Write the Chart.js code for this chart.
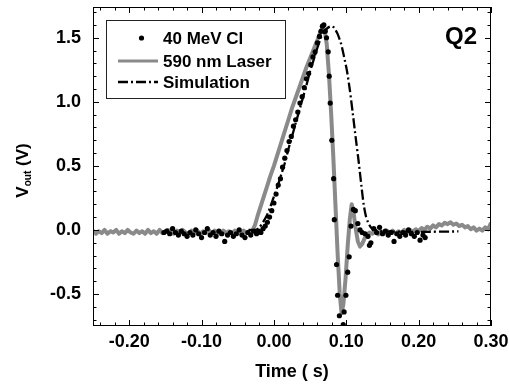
<!DOCTYPE html>
<html>
<head>
<meta charset="utf-8">
<script src="https://cdn.jsdelivr.net/npm/chart.js@4.4.1/dist/chart.umd.min.js"></script>
<style>
  html, body { margin: 0; padding: 0; background: #fff; }
  #wrap { width: 509px; height: 384px; }
</style>
</head>
<body>
<div id="wrap"><canvas id="pulseChart" width="509" height="384"></canvas></div>
<script>
// 40 MeV Cl ion response (dots)
const ionT = [
  -0.152, -0.148, -0.144, -0.140, -0.136, -0.132, -0.128, -0.124, -0.120, -0.116,
  -0.112, -0.108, -0.104, -0.100, -0.096, -0.092, -0.088, -0.084, -0.080, -0.076,
  -0.072, -0.068, -0.064, -0.060, -0.056, -0.052, -0.048, -0.044, -0.040, -0.036,
  -0.032, -0.028,
  -0.024, -0.021, -0.018, -0.015, -0.012, -0.009, -0.006, -0.003, 0.000, 0.003,
  0.006, 0.009, 0.012, 0.015, 0.018, 0.021, 0.024, 0.027, 0.030, 0.033,
  0.036, 0.039, 0.042, 0.045, 0.048, 0.051, 0.054, 0.057, 0.060, 0.063,
  0.065, 0.067, 0.069,
  0.071, 0.0727, 0.075, 0.0764, 0.0778, 0.080, 0.0825, 0.0835, 0.0866, 0.088,
  0.0905, 0.0958, 0.097, 0.0995, 0.102, 0.104, 0.1065, 0.1098, 0.1125, 0.116,
  0.119, 0.122, 0.126, 0.130,
  0.132, 0.134,
  0.138, 0.142, 0.146, 0.150, 0.154, 0.158, 0.162, 0.166, 0.170, 0.174,
  0.178, 0.182, 0.186, 0.190, 0.194, 0.198, 0.202, 0.206, 0.209
];
const ionV = [
  -0.02, -0.01, -0.03, 0.01, -0.02, -0.04, -0.01, -0.03, -0.05, -0.02,
  -0.04, 0.00, -0.03, -0.06, -0.02, 0.01, -0.04, -0.02, -0.05, -0.01,
  -0.03, -0.09, -0.04, -0.02, -0.05, -0.03, 0.00, -0.04, -0.06, -0.02,
  -0.04, -0.01,
  -0.03, -0.01, -0.02, 0.01, 0.03, 0.06, 0.10, 0.15, 0.21, 0.28,
  0.35, 0.40, 0.49, 0.56, 0.62, 0.69, 0.73, 0.81, 0.86, 0.92,
  0.99, 1.04, 1.11, 1.18, 1.22, 1.29, 1.35, 1.39, 1.46, 1.51,
  1.55, 1.59, 1.60,
  1.55, 1.50, 1.39, 1.20, 0.99, 0.70, 0.40, 0.08, -0.27, -0.51,
  -0.67, -0.74, -0.64, -0.51, -0.33, -0.21, 0.03, 0.16, 0.15, 0.05,
  0.00, -0.02, -0.03, -0.05,
  -0.12, -0.10,
  0.01, -0.02, 0.02, -0.03, -0.01, -0.04, -0.02, -0.09, -0.03, -0.05,
  -0.02, -0.04, 0.00, -0.03, -0.05, -0.02, -0.08, -0.04, -0.06
];

// 590 nm laser response (grey trace)
const laserT = [
  -0.250, -0.246, -0.242, -0.238, -0.234, -0.230, -0.226, -0.222, -0.218, -0.214,
  -0.210, -0.206, -0.202, -0.198, -0.194, -0.190, -0.186, -0.182, -0.178, -0.174,
  -0.170, -0.166, -0.162, -0.158, -0.154, -0.150, -0.146, -0.142, -0.138, -0.134,
  -0.130, -0.126, -0.122, -0.118, -0.114, -0.110, -0.106, -0.102, -0.098, -0.094,
  -0.090, -0.086, -0.082, -0.078, -0.074, -0.070, -0.066, -0.062, -0.058, -0.054,
  -0.050, -0.046, -0.042, -0.038, -0.034,
  -0.030, -0.026, -0.022, -0.018, -0.014, -0.010, -0.005, 0.000, 0.005, 0.010,
  0.015, 0.020, 0.025, 0.030, 0.035, 0.040, 0.045, 0.050, 0.055, 0.060,
  0.064, 0.067,
  0.070, 0.073, 0.076, 0.079, 0.082, 0.085, 0.088, 0.091, 0.0935, 0.096,
  0.099, 0.102, 0.105, 0.1075, 0.110, 0.113, 0.116, 0.119, 0.122, 0.125,
  0.128, 0.132,
  0.136, 0.140, 0.144, 0.148, 0.152, 0.156, 0.160, 0.164, 0.168, 0.172,
  0.176, 0.180, 0.184, 0.188, 0.192, 0.196, 0.200, 0.204, 0.208, 0.212,
  0.216, 0.220, 0.224, 0.228, 0.232, 0.236, 0.240, 0.244, 0.248, 0.252,
  0.256, 0.260, 0.264, 0.268, 0.272, 0.276, 0.280, 0.284, 0.288, 0.292,
  0.296, 0.300
];
const laserV = [
  -0.005, -0.030, -0.010, -0.025, 0.000, -0.030, -0.010, -0.020, 0.000, -0.030,
  -0.010, -0.025, 0.000, -0.020, -0.030, -0.005, -0.025, -0.010, -0.030, 0.000,
  -0.025, -0.010, -0.030, 0.000, -0.025, -0.010, 0.000, -0.025, -0.030, -0.005,
  -0.025, 0.000, -0.020, -0.030, -0.005, -0.025, -0.005, -0.030, -0.010, -0.025,
  0.000, -0.030, -0.005, -0.025, -0.030, -0.005, -0.025, -0.010, -0.030, -0.005,
  -0.025, -0.030, -0.005, -0.025, -0.010,
  -0.01, 0.04, 0.12, 0.19, 0.26, 0.33, 0.42, 0.50, 0.59, 0.68,
  0.77, 0.86, 0.95, 1.03, 1.11, 1.19, 1.27, 1.34, 1.41, 1.48,
  1.54, 1.58,
  1.56, 1.45, 1.22, 0.92, 0.58, 0.20, -0.18, -0.50, -0.65, -0.58,
  -0.38, -0.12, 0.09, 0.20, 0.14, 0.01, -0.09, -0.13, -0.11, -0.07,
  -0.04, -0.02,
  -0.030, -0.010, -0.035, -0.010, -0.030, -0.005, -0.025, -0.005, -0.030, -0.010,
  -0.025, 0.000, -0.020, 0.000, -0.015, 0.005, -0.010, 0.015, 0.000, 0.025,
  0.010, 0.035, 0.020, 0.045, 0.035, 0.055, 0.045, 0.060, 0.040, 0.050,
  0.030, 0.040, 0.020, 0.030, 0.005, 0.020, -0.005, 0.010, -0.005, 0.020,
  0.005, 0.055
];

// simulated pulse (dash-dot)
const simT = [
  -0.035, -0.025, -0.020, -0.015, -0.010, -0.005, 0.000, 0.005, 0.010, 0.015,
  0.020, 0.025, 0.030, 0.035, 0.040, 0.045, 0.050, 0.055, 0.060, 0.065,
  0.070, 0.075, 0.079, 0.083, 0.088, 0.093, 0.097, 0.101, 0.105, 0.109,
  0.113, 0.117, 0.121, 0.124, 0.127, 0.130, 0.134, 0.140, 0.150, 0.200,
  0.255
];
const simV = [
  0.00, 0.00, 0.02, 0.06, 0.11, 0.18, 0.26, 0.34, 0.43, 0.52,
  0.63, 0.73, 0.83, 0.93, 1.03, 1.13, 1.24, 1.33, 1.42, 1.50,
  1.55, 1.58, 1.59, 1.58, 1.53, 1.45, 1.35, 1.24, 1.09, 0.91,
  0.72, 0.54, 0.34, 0.20, 0.11, 0.06, 0.02, 0.00, -0.01, -0.015,
  -0.012
];

const xTicks = [-0.2, -0.1, 0, 0.1, 0.2, 0.3];
const yTicks = [-0.5, 0, 0.5, 1.0, 1.5];
const xRange = [-0.25, 0.30];
const yRange = [-0.75, 1.74];
const seriesLabels = ["40 MeV Cl", "590 nm Laser", "Simulation"];
const panelLabel = "Q2";
const xTitle = "Time ( s)";

const FONT = "'Liberation Sans', Arial, Helvetica, sans-serif";
const toXY = (xs, ys) => xs.map((x, i) => ({ x, y: ys[i] }));

// frame + inward major/minor ticks on all four sides
const frameTicks = {
  id: "frameTicks",
  afterDraw(chart) {
    const { ctx, chartArea: a, scales: { x, y } } = chart;
    ctx.save();
    ctx.strokeStyle = "#000";
    ctx.lineWidth = 1;
    ctx.strokeRect(a.left + 0.5, a.top + 0.5, a.right - a.left - 1, a.bottom - a.top - 1);
    ctx.beginPath();
    for (let i = -12; i <= 15; i++) {
      const px = Math.round(x.getPixelForValue(i * 0.02)) + 0.5;
      const len = i % 5 === 0 ? 6 : 3.5;
      ctx.moveTo(px, a.bottom);
      ctx.lineTo(px, a.bottom - len);
      ctx.moveTo(px, a.top);
      ctx.lineTo(px, a.top + len);
    }
    for (let i = -7; i <= 17; i++) {
      const py = Math.round(y.getPixelForValue(i * 0.1)) + 0.5;
      const len = i % 5 === 0 ? 6 : 3.5;
      ctx.moveTo(a.left, py);
      ctx.lineTo(a.left + len, py);
      ctx.moveTo(a.right, py);
      ctx.lineTo(a.right - len, py);
    }
    ctx.stroke();

    // y title with subscript
    ctx.fillStyle = "#000";
    ctx.translate(22, (a.top + a.bottom) / 2 + 4);
    ctx.rotate(-Math.PI / 2);
    const big = "bold 17px " + FONT;
    const small = "bold 10px " + FONT;
    ctx.font = big;
    const wV = ctx.measureText("V").width;
    const wRest = ctx.measureText(" (V)").width;
    ctx.font = small;
    const wSub = ctx.measureText("out").width;
    let cx = -(wV + wSub + wRest) / 2;
    ctx.textBaseline = "alphabetic";
    ctx.textAlign = "left";
    ctx.font = big;
    ctx.fillText("V", cx, 6);
    cx += wV;
    ctx.font = small;
    ctx.fillText("out", cx, 9);
    cx += wSub;
    ctx.font = big;
    ctx.fillText(" (V)", cx, 6);
    ctx.restore();
  },
  afterDatasetsDraw(chart) {
    const { ctx } = chart;
    const ds = chart.data.datasets;
    ctx.save();
    // legend box
    ctx.fillStyle = "#fff";
    ctx.fillRect(107, 21, 178, 77);
    ctx.strokeStyle = "#222";
    ctx.lineWidth = 1;
    ctx.strokeRect(106.5, 20.5, 179, 78);
    const rows = [38, 61, 82];
    ctx.font = "bold 17px " + FONT;
    ctx.textBaseline = "middle";
    ctx.textAlign = "left";
    ds.forEach((d, i) => {
      const ry = rows[i];
      if (d.showLine) {
        ctx.strokeStyle = d.borderColor;
        ctx.lineWidth = Math.min(d.borderWidth, 3);
        ctx.setLineDash(d.borderDash || []);
        ctx.beginPath();
        ctx.moveTo(118, ry);
        ctx.lineTo(158, ry);
        ctx.stroke();
        ctx.setLineDash([]);
      } else {
        ctx.fillStyle = d.backgroundColor;
        ctx.beginPath();
        ctx.arc(141.5, ry, d.pointRadius, 0, Math.PI * 2);
        ctx.fill();
      }
      ctx.fillStyle = "#000";
      ctx.fillText(d.label, 163, ry + 1);
    });
    // panel label
    ctx.font = "bold 24px " + FONT;
    ctx.textAlign = "right";
    ctx.textBaseline = "alphabetic";
    ctx.fillText(panelLabel, 477, 44);
    ctx.restore();
  }
};

new Chart(document.getElementById("pulseChart"), {
  type: "scatter",
  data: {
    datasets: [
      {
        label: seriesLabels[0],
        data: toXY(ionT, ionV),
        showLine: false,
        pointRadius: 2.6,
        pointBorderWidth: 0,
        backgroundColor: "#000",
        borderColor: "#000",
        order: 0,
      },
      {
        label: seriesLabels[1],
        data: toXY(laserT, laserV),
        showLine: true,
        pointRadius: 0,
        borderColor: "#8a8a8a",
        borderWidth: 4,
        borderJoinStyle: "round",
        tension: 0,
        order: 2,
      },
      {
        label: seriesLabels[2],
        data: toXY(simT, simV),
        showLine: true,
        pointRadius: 0,
        borderColor: "#000",
        borderWidth: 2.3,
        borderDash: [10, 3, 2, 3],
        tension: 0.2,
        order: 1,
      },
    ],
  },
  options: {
    responsive: false,
    devicePixelRatio: 1,
    animation: false,
    events: [],
    layout: { padding: { top: 7, right: 18, bottom: 0, left: 0 } },
    plugins: {
      legend: { display: false },
      tooltip: { enabled: false },
    },
    scales: {
      x: {
        type: "linear",
        min: xRange[0],
        max: xRange[1],
        grid: { display: false, drawTicks: false },
        border: { display: false },
        afterBuildTicks: (s) => { s.ticks = xTicks.map((v) => ({ value: v })); },
        afterFit: (s) => { s.height = 58; s.paddingLeft = 0; s.paddingRight = 0; },
        ticks: {
          autoSkip: false,
          maxRotation: 0,
          padding: 5,
          color: "#000",
          font: { family: FONT, size: 18, weight: "bold" },
          callback: (v) => Number(v).toFixed(2),
        },
        title: {
          display: true,
          text: xTitle,
          color: "#000",
          font: { family: FONT, size: 18, weight: "bold" },
          padding: { top: 0, bottom: 1 },
        },
      },
      y: {
        type: "linear",
        min: yRange[0],
        max: yRange[1],
        grid: { display: false, drawTicks: false },
        border: { display: false },
        afterBuildTicks: (s) => { s.ticks = yTicks.map((v) => ({ value: v })); },
        afterFit: (s) => { s.width = 93; s.paddingTop = 0; s.paddingBottom = 0; },
        ticks: {
          padding: 12,
          color: "#000",
          font: { family: FONT, size: 18, weight: "bold" },
          callback: (v) => Number(v).toFixed(1),
        },
      },
    },
  },
  plugins: [frameTicks],
});
</script>
</body>
</html>
